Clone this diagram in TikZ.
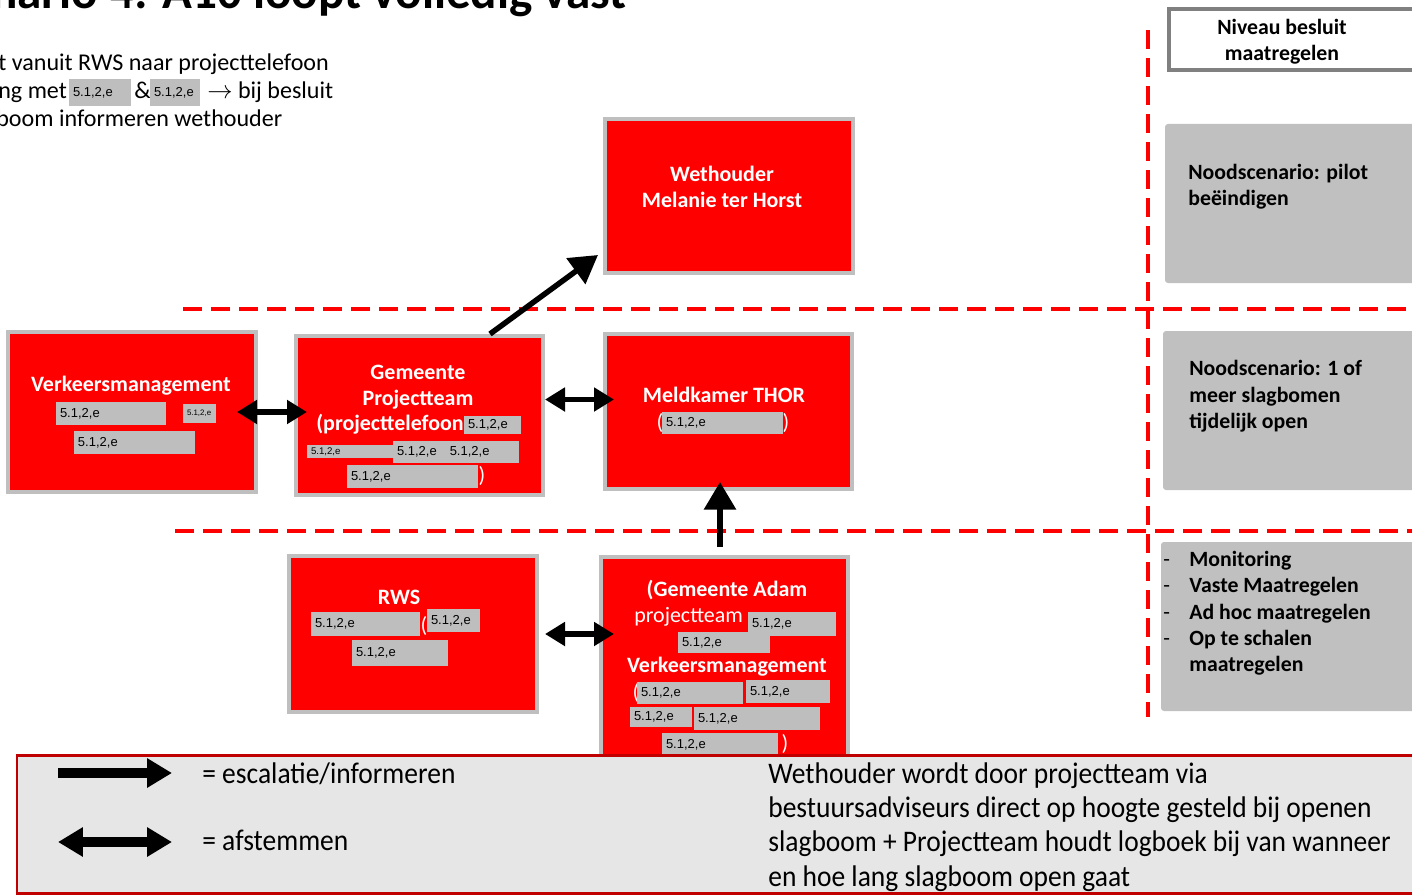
\documentclass[tikz,border=0pt]{standalone}
\usepackage{fontspec}
\setmainfont{Carlito}
\newfontfamily\redfont{Liberation Sans}
\newfontfamily\legfont[FakeStretch=0.92]{Carlito}
\usepackage{tikz}
\usetikzlibrary{arrows.meta,positioning,fit,calc}

\definecolor{boxred}{HTML}{FF0000}
\definecolor{boxedge}{HTML}{BFBFBF}
\definecolor{redactgray}{HTML}{BEBEBE}
\definecolor{panelgray}{HTML}{C0C0C0}
\definecolor{kopedge}{HTML}{808080}
\definecolor{legendfill}{HTML}{E6E6E6}
\definecolor{legendedge}{HTML}{C00000}

\tikzset{
  redbox/.style={draw=boxedge, line width=0.08cm, fill=boxred, inner sep=0pt},
  boxtekst/.style={text=white, font=\bfseries\fontsize{12.5}{14.8}\selectfont, align=center, inner sep=0pt},
  haakje/.style={text=white, font=\fontsize{12.5}{14}\selectfont, inner sep=0pt},
  redact/.style={fill=redactgray, inner sep=0pt},
  redtxt/.style={font=\redfont\fontsize{7.4}{8}\selectfont, inner sep=0.08cm},
  escal/.style={line width=0.11cm, -{Triangle[length=0.55cm, width=0.62cm]}},
  afstem/.style={line width=0.11cm, {Triangle[length=0.4cm, width=0.46cm]}-{Triangle[length=0.4cm, width=0.46cm]}},
  legpijl/.style={line width=0.2cm, -{Triangle[length=0.5cm, width=0.56cm]}},
  legpijl2/.style={line width=0.2cm, {Triangle[length=0.5cm, width=0.56cm]}-{Triangle[length=0.5cm, width=0.56cm]}},
  scheiding/.style={draw=red, line width=0.08cm, dash pattern=on 0.38cm off 0.18cm},
  kopbox/.style={draw=kopedge, line width=0.08cm, fill=white, inner sep=0pt},
  niveaubox/.style={fill=panelgray, rounded corners=0.06cm, inner sep=0pt},
  niveautekst/.style={font=\bfseries\fontsize{12.4}{14.8}\selectfont, align=left, anchor=base west, inner sep=0pt},
  uitleg/.style={anchor=base west, inner sep=0pt, font=\fontsize{13.7}{16}\selectfont},
  legtekst/.style={anchor=base west, inner sep=0pt, font=\legfont\fontsize{17}{19.4}\selectfont, align=left},
}

% grijs weggelakt vlak met tekst
\newcommand{\grijs}[6]{%
  \node[redact, fit={(#2,#3) (#4,#5)}] (#1) {};
  \node[redtxt, anchor=west] (#1t) at (#1.west) {#6};
}

\begin{document}
\begin{tikzpicture}[x=0.02cm, y=-0.02cm]
\useasboundingbox (0,0) rectangle (1412,895);
\clip (0,0) rectangle (1412,895);

% titel en toelichting
\node[anchor=base east, inner sep=0pt, font=\bfseries\fontsize{28}{32}\selectfont] (titel) at (627,9) {nario 4: A10 loopt volledig vast};
\node[uitleg] (regel1) at (-2,71) {t vanuit RWS naar projecttelefoon};
\node[uitleg] (regel2) at (-2,99) {ng met};
\grijs{rA}{69}{79}{131}{106}{5.1,2,e}
\node[uitleg] (regel2b) at (134,99) {\&};
\grijs{rB}{150}{79}{200}{106}{5.1,2,e}
\node[uitleg] (regel2c) at (207,99) {$\rightarrow$ bij besluit};
\node[uitleg] (regel3) at (-4,127) {boom informeren wethouder};

% scheidingslijnen
\draw[scheiding] (183,309) -- (1412,309);
\draw[scheiding] (175,531) -- (1412,531);
\draw[scheiding] (1148,30) -- (1148,717);

% niveaus rechts
\node[kopbox, fit={(1169,9) (1425,70)}] (niveau) {};
\node[font=\bfseries\fontsize{12.4}{14.8}\selectfont, align=center, inner sep=0pt] (niveaut) at (1282,42) {Niveau besluit\\maatregelen};
\node[niveaubox, fit={(1165,124) (1425,283)}] (pilot) {};
\node[niveautekst] (pilott) at (1188,206) {Noodscenario: pilot\\beëindigen};
\node[niveaubox, fit={(1163,331) (1425,490)}] (open) {};
\node[niveautekst] (opent) at (1189,428) {Noodscenario: 1 of\\meer slagbomen\\tijdelijk open};
\node[niveaubox, fit={(1161,542) (1425,711)}] (monitor) {};
\node[niveautekst] (monitort) at (1163,671) {\makebox[0.52cm][l]{\mdseries -}Monitoring\\
  \makebox[0.52cm][l]{\mdseries -}Vaste Maatregelen\\
  \makebox[0.52cm][l]{\mdseries -}Ad hoc maatregelen\\
  \makebox[0.52cm][l]{\mdseries -}Op te schalen\\
  \makebox[0.52cm][l]{}maatregelen};

% wethouder
\node[redbox, fit={(605,119) (853,273)}] (weth) {};
\node[boxtekst] (wetht) at (722,187) {Wethouder\\Melanie ter Horst};

% verkeersmanagement
\node[redbox, fit={(8,332) (256,492)}] (vm) {};
\node[boxtekst] (vmt) at (131,386) {Verkeersmanagement};
\grijs{vm1}{56}{402}{166}{425}{5.1,2,e}
\grijs{vm2}{183}{404}{216}{423}{\fontsize{4.5}{5}\selectfont 5.1,2,e}
\grijs{vm3}{74}{431}{195}{454}{5.1,2,e}

% gemeente projectteam
\node[redbox, fit={(296,336) (543,495)}] (gp) {};
\node[boxtekst] (gpt) at (418,387) {Gemeente\\Projectteam};
\node[boxtekst, anchor=west] (gpt2) at (316,424) {(projecttelefoon};
\grijs{gp1}{464}{416}{521}{434}{5.1,2,e}
\grijs{gp2}{307}{445}{395}{458}{\fontsize{5.5}{6}\selectfont 5.1,2,e}
\grijs{gp3}{393}{441}{519}{463}{5.1,2,e\quad 5.1,2,e}
\grijs{gp4}{347}{465}{478}{488}{5.1,2,e}
\node[haakje] (gph) at (482,476) {)};

% meldkamer
\node[redbox, fit={(605,334) (852,489)}] (mk) {};
\node[boxtekst] (mkt) at (724,395) {Meldkamer THOR};
\node[haakje] (mkh1) at (660,423) {(};
\grijs{mk1}{662}{412}{783}{434}{5.1,2,e}
\node[haakje] (mkh2) at (786,423) {)};

% rws
\node[redbox, fit={(289,556) (537,712)}] (rws) {};
\node[boxtekst] (rwst) at (399,597) {RWS};
\grijs{rws1}{311}{612}{420}{636}{5.1,2,e}
\node[haakje] (rwsh) at (424,626) {(};
\grijs{rws2}{427}{609}{480}{632}{5.1,2,e}
\grijs{rws3}{352}{640}{448}{666}{5.1,2,e}

% gemeente adam
\node[redbox, fit={(601,557) (848,800)}] (ga) {};
\node[boxtekst] (gat1) at (727,590) {(Gemeente Adam};
\node[haakje, anchor=west] (gat2) at (634,617) {projectteam};
\grijs{ga1}{748}{612}{836}{636}{5.1,2,e}
\grijs{ga2}{678}{632}{770}{653}{5.1,2,e}
\node[boxtekst] (gat3) at (727,667) {Verkeersmanagement};
\node[haakje] (gah1) at (636,693) {(};
\grijs{ga3}{637}{682}{743}{704}{5.1,2,e}
\grijs{ga4}{746}{680}{830}{703}{5.1,2,e}
\grijs{ga5}{630}{707}{692}{727}{5.1,2,e}
\grijs{ga6}{694}{707}{820}{730}{5.1,2,e}
\grijs{ga7}{662}{733}{778}{756}{5.1,2,e}
\node[haakje] (gah2) at (785,744) {)};

% pijlen
\draw[escal] ([xshift=1.41cm]gp.north) -- ([shift={(-0.1cm,0.4cm)}]weth.south west);
\draw[afstem, shorten <=-0.42cm, shorten >=-0.26cm] (vm.east) -- (vm.east -| gp.west);
\draw[afstem, shorten >=-0.22cm] ([yshift=0.32cm]gp.east) -- ([yshift=0.32cm]gp.east -| mk.west);
\draw[escal, shorten <=0.16cm, shorten >=-0.18cm] ([xshift=-0.09cm]ga.north) -- ([xshift=-0.09cm]ga.north |- mk.south);
\draw[afstem, shorten <=0.12cm, shorten >=-0.3cm] (rws.east) -- (rws.east -| ga.west);

% legenda
\node[draw=legendedge, line width=0.06cm, fill=legendfill, inner sep=0pt, fit={(17,755) (1425,893)}] (legenda) {};
\coordinate (esc0) at (58,773);
\coordinate (esc1) at (172,773);
\draw[legpijl] (esc0) -- (esc1);
\coordinate (afs0) at (58,842);
\coordinate (afs1) at (172,842);
\draw[legpijl2] (afs0) -- (afs1);
\node[legtekst] (esct) at (202,783) {= escalatie/informeren};
\node[legtekst] (afst) at (202,850) {= afstemmen};
\node[legtekst] (noot) at (768,886) {Wethouder wordt door projectteam via\\bestuursadviseurs direct op hoogte gesteld bij openen\\slagboom + Projectteam houdt logboek bij van wanneer\\en hoe lang slagboom open gaat};

\end{tikzpicture}
\end{document}
